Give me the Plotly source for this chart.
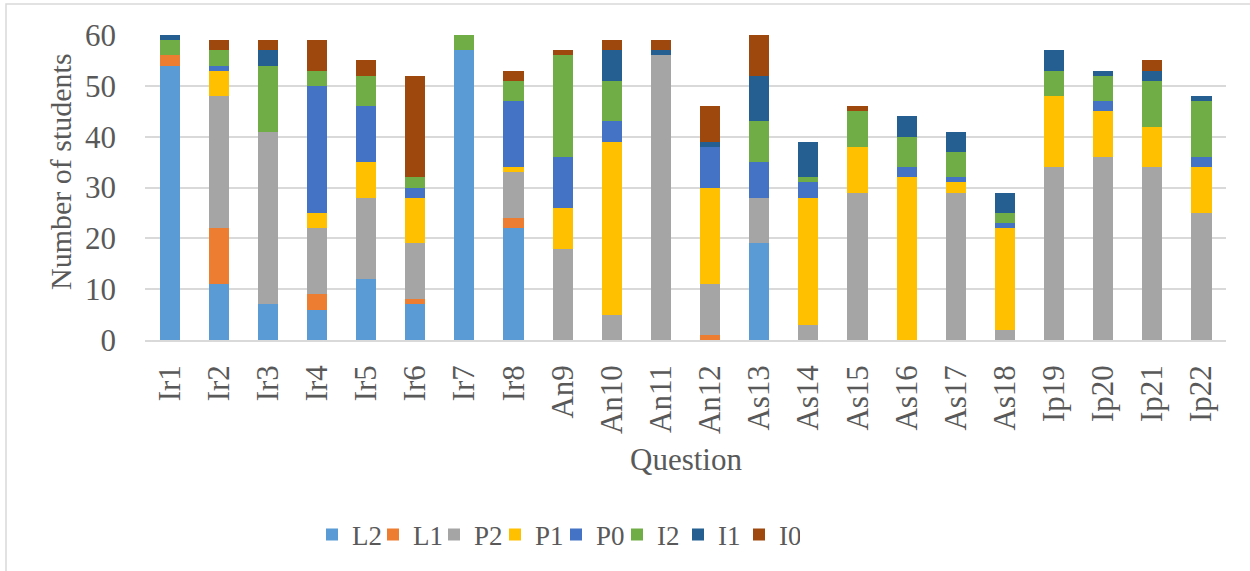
import plotly.graph_objects as go

questions = ["Ir1", "Ir2", "Ir3", "Ir4", "Ir5", "Ir6", "Ir7", "Ir8", "An9", "An10", "An11",
             "An12", "As13", "As14", "As15", "As16", "As17", "As18", "Ip19", "Ip20", "Ip21", "Ip22"]

L2 = [54, 11, 7, 6, 12, 7, 57, 22, 0, 0, 0, 0, 19, 0, 0, 0, 0, 0, 0, 0, 0, 0]
L1 = [2, 11, 0, 3, 0, 1, 0, 2, 0, 0, 0, 1, 0, 0, 0, 0, 0, 0, 0, 0, 0, 0]
P2 = [0, 26, 34, 13, 16, 11, 0, 9, 18, 5, 56, 10, 9, 3, 29, 0, 29, 2, 34, 36, 34, 25]
P1 = [0, 5, 0, 3, 7, 9, 0, 1, 8, 34, 0, 19, 0, 25, 9, 32, 2, 20, 14, 9, 8, 9]
P0 = [0, 1, 0, 25, 11, 2, 0, 13, 10, 4, 0, 8, 7, 3, 0, 2, 1, 1, 0, 2, 0, 2]
I2 = [3, 3, 13, 3, 6, 2, 3, 4, 20, 8, 0, 0, 8, 1, 7, 6, 5, 2, 5, 5, 9, 11]
I1 = [1, 0, 3, 0, 0, 0, 0, 0, 0, 6, 1, 1, 9, 7, 0, 4, 4, 4, 4, 1, 2, 1]
I0 = [0, 2, 2, 6, 3, 20, 0, 2, 1, 2, 2, 7, 8, 0, 1, 0, 0, 0, 0, 0, 2, 0]

series_names = ["L2", "L1", "P2", "P1", "P0", "I2", "I1", "I0"]
series_values = [L2, L1, P2, P1, P0, I2, I1, I0]
colors = ["#5B9BD5", "#ED7D31", "#A5A5A5", "#FFC000", "#4472C4", "#70AD47", "#255E91", "#9E480E"]

FONT = "Liberation Serif, Times New Roman, serif"
TXT = "#595959"

fig = go.Figure()
for name, vals, col in zip(series_names, series_values, colors):
    fig.add_trace(go.Bar(name=name, x=questions, y=vals,
                         marker=dict(color=col, line=dict(width=0))))

W, H = 1250, 571
L, R, T, B = 145, 24, 35, 231
pw, ph = W - L - R, H - T - B

def px(x):
    return (x - L) / pw

def py(y):
    return (H - B - y) / ph

fig.update_layout(
    width=W, height=H,
    barmode="stack", bargap=0.59,
    plot_bgcolor="white", paper_bgcolor="white",
    margin=dict(l=L, r=R, t=T, b=B, autoexpand=False),
    font=dict(family=FONT, color=TXT, size=28),
    xaxis=dict(tickangle=-90, showline=True, linecolor="#D9D9D9", linewidth=1.5,
               ticks="", ticklabelstandoff=11, tickfont=dict(size=31), automargin=False),
    yaxis=dict(range=[0, 60], dtick=10, showgrid=True, gridcolor="#D9D9D9", gridwidth=1.5,
               zeroline=False, ticks="", ticklabelstandoff=28, tickfont=dict(size=31),
               automargin=False),
    legend=dict(orientation="h", x=px(312), xanchor="left", y=py(535), yanchor="middle",
                font=dict(size=27), traceorder="normal", itemwidth=30,
                entrywidth=16, entrywidthmode="pixels"),
    annotations=[
        dict(text="Number of students", xref="paper", yref="paper", x=px(60), y=py(172),
             xanchor="center", yanchor="middle", textangle=-90, showarrow=False,
             font=dict(size=30, color=TXT, family=FONT)),
        dict(text="Question", xref="paper", yref="paper", x=0.5, y=py(459),
             xanchor="center", yanchor="middle", showarrow=False,
             font=dict(size=31, color=TXT, family=FONT)),
    ],
    shapes=[dict(type="rect", xref="paper", yref="paper", x0=px(6), x1=px(1260),
                 y0=py(580), y1=py(4), line=dict(color="#D9D9D9", width=1.5), layer="below")],
)

fig.write_html("out.html", config={"displayModeBar": False},
               post_script="document.body.style.margin='0px';document.body.style.overflow='hidden';")
